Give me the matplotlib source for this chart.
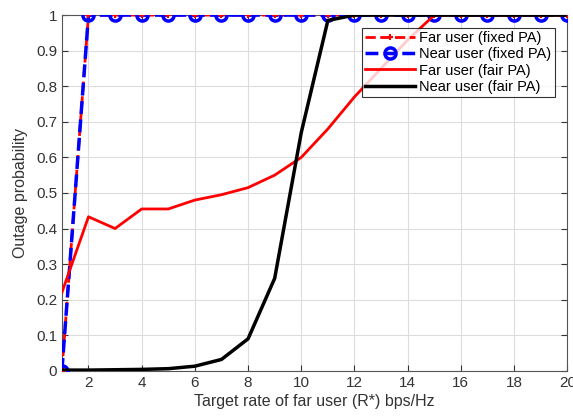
import matplotlib
matplotlib.use("Agg")
import matplotlib.pyplot as plt
import numpy as np

plt.rcParams['font.family'] = ['Liberation Sans', 'DejaVu Sans']

rate = list(range(1, 21))
far_fixed = [0] + [1] * 19
near_fixed = [0] + [1] * 19
far_fair = [0.22, 0.433, 0.40, 0.455, 0.455, 0.48, 0.495, 0.515, 0.55, 0.60,
            0.68, 0.77, 0.85, 0.93, 1.0, 1.0, 1.0, 1.0, 1.0, 1.0]
near_fair = [0.002, 0.002, 0.003, 0.004, 0.006, 0.013, 0.032, 0.09, 0.26, 0.67,
             0.985, 1.0, 1.0, 1.0, 1.0, 1.0, 1.0, 1.0, 1.0, 1.0]

fig = plt.figure(figsize=(5.73, 4.19), dpi=100)
ax = fig.add_axes([0.108, 0.115, 0.882, 0.849])

h_far_fixed, = ax.plot(rate, far_fixed, '--+', color='#ff0000', lw=2,
                       markersize=5, markeredgewidth=1.5, zorder=3,
                       label='Far user (fixed PA)')
h_near_fixed, = ax.plot(rate, near_fixed, '--o', color='#0000ff', lw=2.5,
                        markersize=8, markerfacecolor='none',
                        markeredgewidth=2.5, zorder=4,
                        label='Near user (fixed PA)')
ax.plot(rate, far_fixed, '+', color='#ff0000', markersize=5,
        markeredgewidth=1.5, zorder=5)
h_far_fair, = ax.plot(rate, far_fair, '-', color='#ff0000', lw=2, zorder=6,
                      label='Far user (fair PA)')
h_near_fair, = ax.plot(rate, near_fair, '-', color='black', lw=2.5, zorder=7,
                       label='Near user (fair PA)')

ax.set_xlim(1, 20)
ax.set_ylim(0, 1)
ax.set_xticks(range(2, 21, 2))
ax.set_yticks(np.arange(0, 1.01, 0.1))
ax.set_yticklabels(['0', '0.1', '0.2', '0.3', '0.4', '0.5', '0.6', '0.7',
                    '0.8', '0.9', '1'])
ax.grid(True, color='#dcdcdc', lw=0.8)
ax.set_axisbelow(True)
for s in ax.spines.values():
    s.set_color('#555555')
    s.set_linewidth(0.8)
ax.tick_params(labelsize=11, colors='#333333', direction='in', length=4,
               top=True, right=True)
ax.set_xlabel('Target rate of far user (R*) bps/Hz', fontsize=11.5,
              color='#333333', labelpad=3)
ax.set_ylabel('Outage probability', fontsize=11.5, color='#333333',
              labelpad=6)

leg = ax.legend(handles=[h_far_fixed, h_near_fixed, h_far_fair, h_near_fair],
                loc='upper right', bbox_to_anchor=(0.976, 0.965),
                fontsize=10.5, frameon=True, fancybox=False,
                borderpad=0.25, labelspacing=0.15, handlelength=3.4,
                handletextpad=0.3, borderaxespad=0)
leg.get_frame().set_edgecolor('black')
leg.get_frame().set_linewidth(0.8)
leg.set_zorder(10)

fig.savefig('out.png', dpi=100)
